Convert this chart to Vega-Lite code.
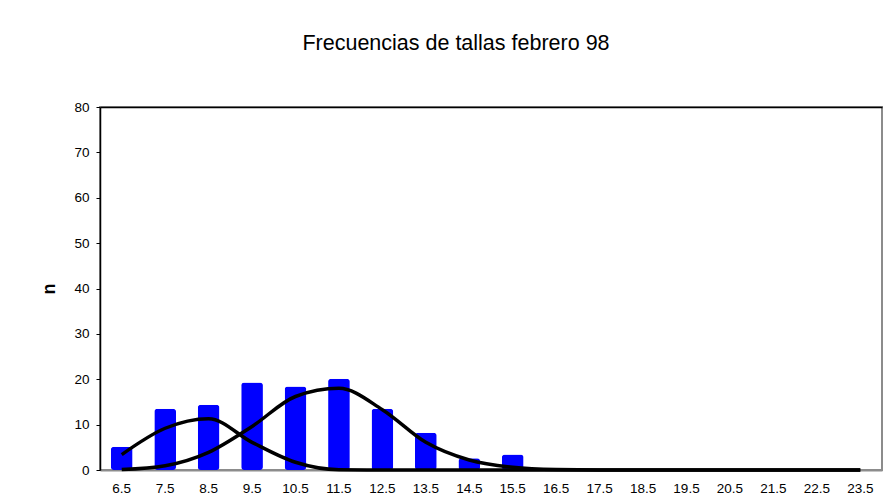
{
  "$schema": "https://vega.github.io/schema/vega-lite/v6.json",
  "width": 782,
  "height": 363,
  "autosize": {"type": "none"},
  "padding": {"left": 100, "top": 107, "right": 7, "bottom": 27},
  "background": "white",
  "title": {
    "text": "Frecuencias de tallas febrero 98",
    "fontSize": 21.5,
    "fontWeight": "normal",
    "font": "Liberation Sans",
    "color": "black",
    "anchor": "middle",
    "dx": -35,
    "offset": 46
  },
  "config": {
    "font": "Liberation Sans",
    "view": {"stroke": "#8c8c8c", "strokeWidth": 2},
    "axis": {"grid": false, "labelFont": "Liberation Sans", "labelColor": "black", "labelFontSize": 13.5}
  },
  "datasets": {
    "barras": [
      {"talla": "6.5", "n": 5.1},
      {"talla": "7.5", "n": 13.5},
      {"talla": "8.5", "n": 14.4},
      {"talla": "9.5", "n": 19.3},
      {"talla": "10.5", "n": 18.4},
      {"talla": "11.5", "n": 20.1},
      {"talla": "12.5", "n": 13.5},
      {"talla": "13.5", "n": 8.2},
      {"talla": "14.5", "n": 2.6},
      {"talla": "15.5", "n": 3.4},
      {"talla": "16.5", "n": 0},
      {"talla": "17.5", "n": 0},
      {"talla": "18.5", "n": 0},
      {"talla": "19.5", "n": 0},
      {"talla": "20.5", "n": 0},
      {"talla": "21.5", "n": 0},
      {"talla": "22.5", "n": 0},
      {"talla": "23.5", "n": 0}
    ],
    "curvas": [
      {"talla": "6.5", "grupo": "c1", "ajuste": 3.4},
      {"talla": "7.5", "grupo": "c1", "ajuste": 9.2},
      {"talla": "8.5", "grupo": "c1", "ajuste": 11.3},
      {"talla": "9.5", "grupo": "c1", "ajuste": 6.1},
      {"talla": "10.5", "grupo": "c1", "ajuste": 1.7},
      {"talla": "11.5", "grupo": "c1", "ajuste": 0.05},
      {"talla": "12.5", "grupo": "c1", "ajuste": 0},
      {"talla": "13.5", "grupo": "c1", "ajuste": 0},
      {"talla": "14.5", "grupo": "c1", "ajuste": 0},
      {"talla": "15.5", "grupo": "c1", "ajuste": 0},
      {"talla": "16.5", "grupo": "c1", "ajuste": 0},
      {"talla": "17.5", "grupo": "c1", "ajuste": 0},
      {"talla": "18.5", "grupo": "c1", "ajuste": 0},
      {"talla": "19.5", "grupo": "c1", "ajuste": 0},
      {"talla": "20.5", "grupo": "c1", "ajuste": 0},
      {"talla": "21.5", "grupo": "c1", "ajuste": 0},
      {"talla": "22.5", "grupo": "c1", "ajuste": 0},
      {"talla": "23.5", "grupo": "c1", "ajuste": 0},
      {"talla": "6.5", "grupo": "c2", "ajuste": 0.1},
      {"talla": "7.5", "grupo": "c2", "ajuste": 0.95},
      {"talla": "8.5", "grupo": "c2", "ajuste": 3.9},
      {"talla": "9.5", "grupo": "c2", "ajuste": 9.6},
      {"talla": "10.5", "grupo": "c2", "ajuste": 16.2},
      {"talla": "11.5", "grupo": "c2", "ajuste": 18.0},
      {"talla": "12.5", "grupo": "c2", "ajuste": 13.3},
      {"talla": "13.5", "grupo": "c2", "ajuste": 6.1},
      {"talla": "14.5", "grupo": "c2", "ajuste": 2.2},
      {"talla": "15.5", "grupo": "c2", "ajuste": 0.6},
      {"talla": "16.5", "grupo": "c2", "ajuste": 0.1},
      {"talla": "17.5", "grupo": "c2", "ajuste": 0},
      {"talla": "18.5", "grupo": "c2", "ajuste": 0},
      {"talla": "19.5", "grupo": "c2", "ajuste": 0},
      {"talla": "20.5", "grupo": "c2", "ajuste": 0},
      {"talla": "21.5", "grupo": "c2", "ajuste": 0},
      {"talla": "22.5", "grupo": "c2", "ajuste": 0},
      {"talla": "23.5", "grupo": "c2", "ajuste": 0}
    ]
  },
  "resolve": {"axis": {"x": "independent"}},
  "layer": [
    {
      "data": {"name": "barras"},
      "mark": {"type": "bar", "color": "#0000ff", "cornerRadius": 3, "width": {"band": 0.5}},
      "encoding": {
        "x": {
          "field": "talla",
          "type": "ordinal",
          "sort": null,
          "scale": {"paddingInner": 0, "paddingOuter": 0},
          "axis": {
            "orient": "bottom",
            "title": null,
            "labelAngle": 0,
            "labelFontSize": 13.5,
            "ticks": false,
            "domain": true,
            "domainColor": "#8c8c8c",
            "domainWidth": 2,
            "labelPadding": 11
          }
        },
        "y": {
          "field": "n",
          "type": "quantitative",
          "scale": {"domain": [0, 80], "nice": false},
          "axis": {
            "title": "n",
            "titleFont": "Liberation Sans",
            "titleFontSize": 18,
            "titleFontWeight": "bold",
            "titleColor": "black",
            "titlePadding": 15,
            "labelFontSize": 13.5,
            "values": [0, 10, 20, 30, 40, 50, 60, 70, 80],
            "domainColor": "black",
            "domainWidth": 1.5,
            "tickColor": "black",
            "tickSize": 4,
            "labelPadding": 7
          }
        }
      }
    },
    {
      "data": {"name": "curvas"},
      "mark": {"type": "line", "color": "black", "strokeWidth": 3.5, "interpolate": "monotone"},
      "encoding": {
        "x": {
          "field": "talla",
          "type": "ordinal",
          "sort": null,
          "axis": {
            "orient": "top",
            "title": null,
            "labels": false,
            "ticks": false,
            "domainColor": "black",
            "domainWidth": 1.5
          }
        },
        "y": {"field": "ajuste", "type": "quantitative"},
        "detail": {"field": "grupo"}
      }
    }
  ]
}
